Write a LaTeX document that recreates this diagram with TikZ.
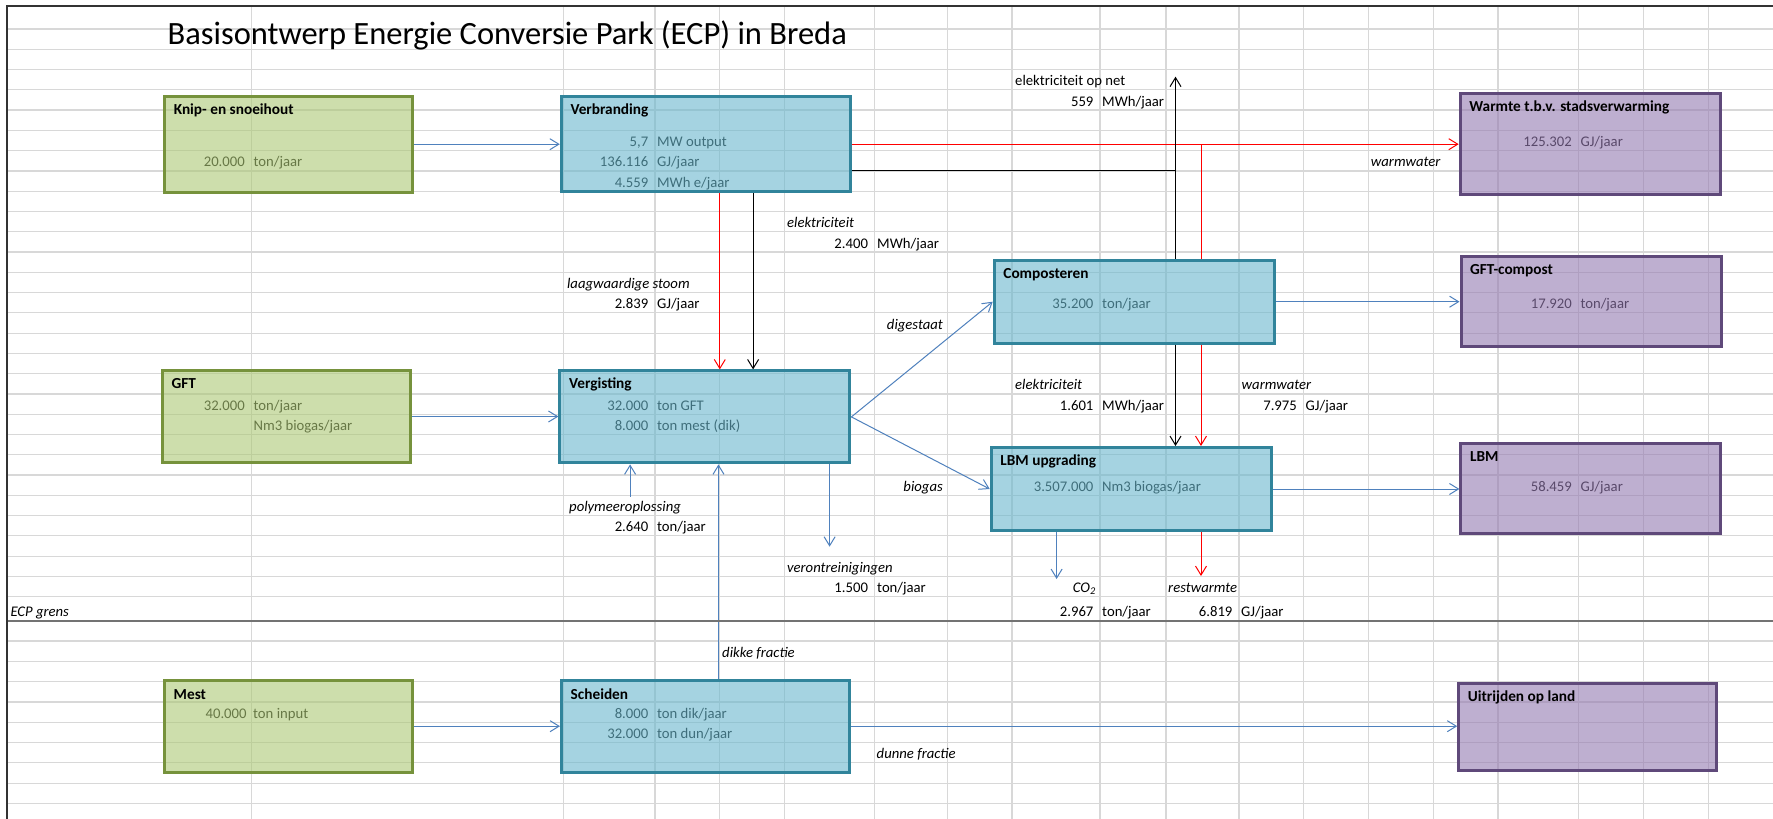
\documentclass[tikz,border=0pt]{standalone}
\usepackage{fontspec}
\setmainfont{Carlito}
\usetikzlibrary{arrows.meta}

\definecolor{gridgray}{RGB}{216,216,216}
\definecolor{greenfill}{RGB}{172,200,117}
\definecolor{greenline}{RGB}{118,146,60}
\definecolor{bluefill}{RGB}{105,183,205}
\definecolor{blueline}{RGB}{49,132,155}
\definecolor{purplefill}{RGB}{148,122,177}
\definecolor{purpleline}{RGB}{95,73,122}
\definecolor{flowblue}{RGB}{79,129,189}

\begin{document}
\begin{tikzpicture}[>={Straight Barb[length=9pt,width=11pt]}, x=1pt, y=-1pt,
  cell/.style={inner sep=0pt, font=\fontsize{14.7}{17}\selectfont},
  num/.style={cell, anchor=base east},
  unit/.style={cell, anchor=base west},
  lab/.style={cell, anchor=base west, font=\fontsize{14.7}{17}\selectfont\itshape},
  labr/.style={lab, anchor=base east},
  box/.style={draw, line width=3pt, fill opacity=0.6, inner sep=0pt},
  inbox/.style={box, draw=greenline, fill=greenfill},
  procbox/.style={box, draw=blueline, fill=bluefill},
  outbox/.style={box, draw=purpleline, fill=purplefill},
  boxtitle/.style={inner sep=0pt, anchor=base west, font=\fontsize{15.3}{18}\selectfont\bfseries},
  flow/.style={->, line width=1pt, flowblue},
  heat/.style={->, line width=1pt, red},
  power/.style={->, line width=1pt, black}]

\fill[white] (0,0) rectangle (1773,819);
\useasboundingbox (0,0) rectangle (1773,819);

% spreadsheet grid
\foreach \k in {1,...,29}
{
  \draw[gridgray, line width=1.2pt] (7,{8.7+20.275*\k}) -- (1773,{8.7+20.275*\k});
}
\foreach \y in {641,661.3,681.6,701.9,722.2,742.5,762.8,783.1,803.4}
{
  \draw[gridgray, line width=1.2pt] (7,\y) -- (1773,\y);
}
\foreach \x in {251.4,563.4,654.9,719.6,784.4,874.6,947.3,1012,1100,1166,1239,1303.4,1368.1,1433.2,1497.9,1578.3,1643.2,1708.3}
{
  \draw[gridgray, line width=1.2pt] (\x,6) -- (\x,819);
}

\node[anchor=base west, inner sep=0pt, font=\fontsize{32.5}{38}\selectfont] (title) at (167.5,44) {Basisontwerp Energie Conversie Park (ECP) in Breda};

% cell texts
\node[cell, anchor=base west] (l-net) at (1015,85.8) {elektriciteit op net};
\node[num] (v-net) at (1093.6,106.1) {559};
\node[unit] (u-net) at (1102,106.1) {MWh/jaar};

\node[num] (v-knip) at (245,166.9) {20.000};
\node[unit] (u-knip) at (253.4,166.9) {ton/jaar};

\node[num] (v-verbr1) at (648.5,146.6) {5,7};
\node[unit] (u-verbr1) at (656.9,146.6) {MW output};
\node[num] (v-verbr2) at (648.5,166.9) {136.116};
\node[unit] (u-verbr2) at (656.9,166.9) {GJ/jaar};
\node[num] (v-verbr3) at (648.5,187.2) {4.559};
\node[unit] (u-verbr3) at (656.9,187.2) {MWh e/jaar};

\node[num] (v-warmte) at (1572,146.6) {125.302};
\node[unit] (u-warmte) at (1580.3,146.6) {GJ/jaar};
\node[lab] (l-warm1) at (1370.7,166.9) {warmwater};

\node[lab] (l-elek1) at (786.9,227.7) {elektriciteit};
\node[num] (v-elek1) at (868.2,248) {2.400};
\node[unit] (u-elek1) at (877,248) {MWh/jaar};

\node[lab] (l-stoom) at (566.9,288.6) {laagwaardige stoom};
\node[num] (v-stoom) at (648.5,308.8) {2.839};
\node[unit] (u-stoom) at (656.9,308.8) {GJ/jaar};

\node[num] (v-compost) at (1093.6,308.8) {35.200};
\node[unit] (u-compost) at (1102,308.8) {ton/jaar};
\node[num] (v-gftcomp) at (1572,308.8) {17.920};
\node[unit] (u-gftcomp) at (1580.3,308.8) {ton/jaar};
\node[labr] (l-dig) at (943,329.1) {digestaat};

\node[lab] (l-elek2) at (1015,389.9) {elektriciteit};
\node[num] (v-elek2) at (1093.6,410.2) {1.601};
\node[unit] (u-elek2) at (1102,410.2) {MWh/jaar};
\node[lab] (l-warm2) at (1241.5,389.9) {warmwater};
\node[num] (v-warm2) at (1297,410.2) {7.975};
\node[unit] (u-warm2) at (1305.4,410.2) {GJ/jaar};

\node[num] (v-gft) at (245,410.2) {32.000};
\node[unit] (u-gft1) at (253.4,410.2) {ton/jaar};
\node[unit] (u-gft2) at (253.4,430.5) {Nm3 biogas/jaar};

\node[num] (v-verg1) at (648.5,410.2) {32.000};
\node[unit] (u-verg1) at (656.9,410.2) {ton GFT};
\node[num] (v-verg2) at (648.5,430.5) {8.000};
\node[unit] (u-verg2) at (656.9,430.5) {ton mest (dik)};

\node[num] (v-lbmup) at (1093.6,491.3) {3.507.000};
\node[unit] (u-lbmup) at (1102,491.3) {Nm3 biogas/jaar};
\node[labr] (l-biogas) at (943,491.3) {biogas};
\node[num] (v-lbm) at (1572,491.3) {58.459};
\node[unit] (u-lbm) at (1580.3,491.3) {GJ/jaar};

\node[lab] (l-polym) at (569,511.6) {polymeeroplossing};
\node[num] (v-polym) at (648.5,531.9) {2.640};
\node[unit] (u-polym) at (656.9,531.9) {ton/jaar};

\node[lab] (l-veront) at (786.9,572.4) {verontreinigingen};
\node[num] (v-veront) at (868.2,592.7) {1.500};
\node[unit] (u-veront) at (877,592.7) {ton/jaar};

\node[labr] (l-co2) at (1096,592.7) {CO\textsubscript{2}};
\node[lab] (l-rest) at (1168,592.7) {restwarmte};
\node[num] (v-co2) at (1093.6,616.7) {2.967};
\node[unit] (u-co2) at (1102,616.7) {ton/jaar};
\node[num] (v-rest) at (1232.6,616.7) {6.819};
\node[unit] (u-rest) at (1241,616.7) {GJ/jaar};

\node[lab] (l-ecp) at (10.3,616.7) {ECP grens};
\node[lab] (l-dik) at (722,657.3) {dikke fractie};

\node[num] (v-mest) at (246.8,718.2) {40.000};
\node[unit] (u-mest) at (253,718.2) {ton input};
\node[num] (v-scheid1) at (648.5,718.2) {8.000};
\node[unit] (u-scheid1) at (656.9,718.2) {ton dik/jaar};
\node[num] (v-scheid2) at (648.5,738.5) {32.000};
\node[unit] (u-scheid2) at (656.9,738.5) {ton dun/jaar};
\node[lab] (l-dun) at (876.5,758.8) {dunne fractie};

% boxes
\node[inbox, minimum width=248pt, minimum height=96pt] (knip) at (288.6,144.2) {};
\node[inbox, minimum width=248pt, minimum height=92pt] (gft) at (286.4,416.5) {};
\node[inbox, minimum width=248pt, minimum height=92pt] (mest) at (288.5,726.2) {};
\node[procbox, minimum width=289pt, minimum height=95pt] (verbr) at (705.8,144.2) {};
\node[procbox, minimum width=290pt, minimum height=92pt] (verg) at (704.9,416.9) {};
\node[procbox, minimum width=288pt, minimum height=92pt] (scheiden) at (705.5,726.2) {};
\node[procbox, minimum width=280pt, minimum height=83pt] (compost) at (1134.2,301.7) {};
\node[procbox, minimum width=280pt, minimum height=83pt] (lbmup) at (1131.2,489) {};
\node[outbox, minimum width=260pt, minimum height=101pt] (warmte) at (1590.2,143.8) {};
\node[outbox, minimum width=260pt, minimum height=90pt] (gftcomp) at (1591,301.7) {};
\node[outbox, minimum width=260pt, minimum height=90pt] (lbm) at (1590.9,488.3) {};
\node[outbox, minimum width=258pt, minimum height=87pt] (uitrijden) at (1587.7,727) {};

\node[boxtitle] (knip-t) at ([shift={(10.5,19.3)}]knip.north west) {Knip- en snoeihout};
\node[boxtitle] (gft-t) at ([shift={(10.5,19.3)}]gft.north west) {GFT};
\node[boxtitle] (mest-t) at ([shift={(10.5,20.5)}]mest.north west) {Mest};
\node[boxtitle] (verbr-t) at ([shift={(10.5,19.3)}]verbr.north west) {Verbranding};
\node[boxtitle] (verg-t) at ([shift={(10.5,19.3)}]verg.north west) {Vergisting};
\node[boxtitle] (scheiden-t) at ([shift={(10.5,20.5)}]scheiden.north west) {Scheiden};
\node[boxtitle] (compost-t) at ([shift={(10.5,19.3)}]compost.north west) {Composteren};
\node[boxtitle] (lbmup-t) at ([shift={(10.5,19.3)}]lbmup.north west) {LBM upgrading};
\node[boxtitle] (warmte-t) at ([shift={(10.5,19.3)}]warmte.north west) {Warmte t.b.v. stadsverwarming};
\node[boxtitle] (gftcomp-t) at ([shift={(10.5,19.3)}]gftcomp.north west) {GFT-compost};
\node[boxtitle] (lbm-t) at ([shift={(10.5,19.3)}]lbm.north west) {LBM};
\node[boxtitle] (uitrijden-t) at ([shift={(10.5,19.3)}]uitrijden.north west) {Uitrijden op land};

% connectors
\coordinate (nettop) at (1175.5,76.7);
\coordinate (hotw) at (1201,576);
\coordinate (co2) at (1056.6,579);
\coordinate (veront) at (829.6,546.7);
\coordinate (polym) at (630.1,496.7);
\coordinate (dik) at (718.5,0);
\coordinate (verbrE) at ([yshift=-26.5pt]verbr.east);

\draw[flow] (knip.east) -- (knip.east -| verbr.west);
\draw[flow] (gft.east) -- (gft.east -| verg.west);
\draw[flow] (mest.east) -- (mest.east -| scheiden.west);
\draw[flow] (scheiden.east) -- (scheiden.east -| uitrijden.west);
\draw[flow] (verg.east) -- (compost.west);
\draw[flow] (verg.east) -- (lbmup.west);
\draw[flow] (compost.east) -- (compost.east -| gftcomp.west);
\draw[flow] (lbmup.east) -- (lbmup.east -| lbm.west);
\draw[flow] (lbmup.south -| co2) -- (co2);
\draw[flow] (verg.south -| veront) -- (veront);
\draw[flow] (polym) -- (polym |- verg.south);
\draw[flow] (scheiden.north -| dik) -- (verg.south -| dik);

\draw[heat] (verbr.east) -- (verbr.east -| warmte.west);
\draw[heat] ([xshift=14pt]verbr.south) -- ([xshift=14pt]verbr.south |- verg.north);
\draw[heat, -] (verbr.east -| hotw) -- (compost.north -| hotw);
\draw[heat] (compost.south -| hotw) -- (lbmup.north -| hotw);
\draw[heat] (lbmup.south -| hotw) -- (hotw);

\draw[power] ([xshift=47.3pt]verbr.south) -- ([xshift=47.3pt]verbr.south |- verg.north);
\draw[power, -] (verbrE) -- (verbrE -| nettop);
\draw[power] (compost.north -| nettop) -- (nettop);
\draw[power] (compost.south -| nettop) -- (lbmup.north -| nettop);

% borders
\draw[black!55, line width=2pt] (7,620.7) -- (1773,620.7);
\draw[black!80, line width=2pt] (7,819) -- (7,6) -- (1773,6);

\end{tikzpicture}
\end{document}
